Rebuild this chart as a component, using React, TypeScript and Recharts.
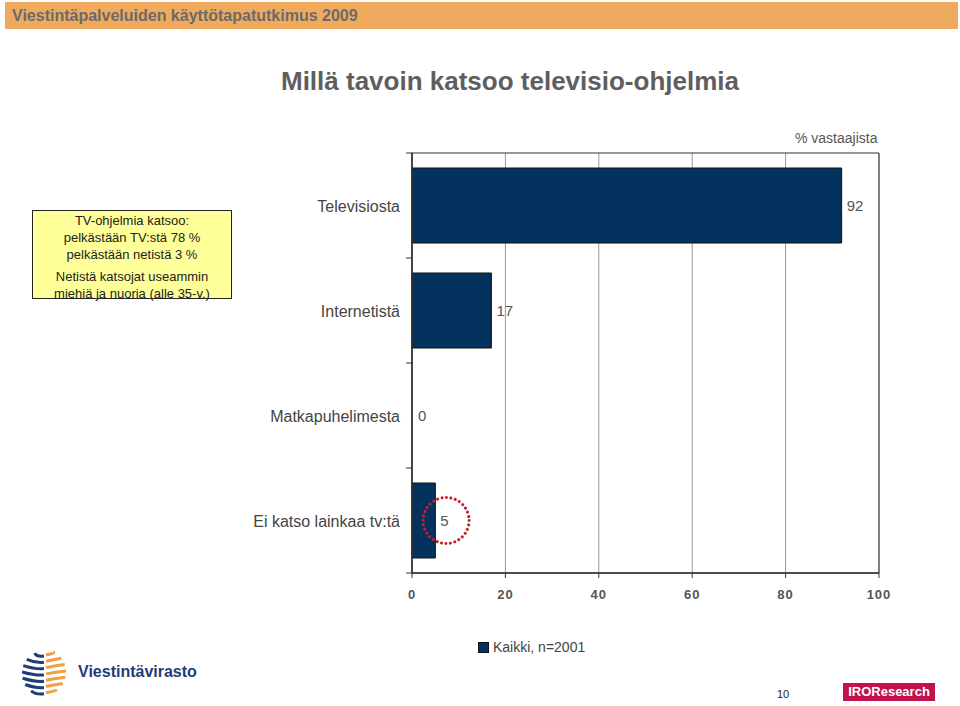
import React from "react";
import {
  BarChart, Bar, XAxis, YAxis, CartesianGrid, LabelList, ReferenceDot, ReferenceArea, Rectangle,
} from "recharts";

const categories = ["Televisiosta", "Internetistä", "Matkapuhelimesta", "Ei katso lainkaa tv:tä"];
const values = [92, 17, 0, 5];
const xTicks = [0, 20, 40, 60, 80, 100];
const seriesName = "Kaikki, n=2001";

const FONT = "'Liberation Sans', Arial, sans-serif";
const PLOT_TOP = 153;
const PLOT_H = 420;
const BAND = PLOT_H / categories.length;
const NAVY = "#03325F";

const data = categories.map((name, i) => ({ name, value: values[i] }));

// kategoriatekstit + väkäset kaistojen rajoille
function CatTick(props: any) {
  const { x, y, payload } = props;
  return (
    <g>
      <text x={x - 4} y={y} dy={6} textAnchor="end" fontSize={16} fill="#444" fontFamily={FONT}>
        {payload.value}
      </text>
      <line x1={x + 2} x2={x + 9} y1={y + BAND / 2} y2={y + BAND / 2} stroke="#333" />
      {payload.index === 0 && <line x1={x + 2} x2={x + 9} y1={y - BAND / 2} y2={y - BAND / 2} stroke="#333" />}
    </g>
  );
}

// nollapalkkia ei piirretä, mutta arvo näytetään
function BarShape(props: any) {
  if (!props.value) return null;
  return <Rectangle {...props} />;
}

function Logo() {
  const rows = [0, 1, 2, 3, 4, 5, 6];
  return (
    <svg width={44} height={50} style={{ position: "absolute", left: 22, top: 648 }}>
      {rows.map((r) => {
        const y = 5 + r * 6.3;
        const dy = y - 25;
        const half = Math.sqrt(Math.max(0, 22 * 22 - dy * dy));
        return (
          <g key={r}>
            <path d={`M ${22 - half} ${y} Q ${14} ${y + 4} ${22} ${y + 3}`} stroke="#1f3c78" strokeWidth={3} fill="none" />
            <path d={`M ${24} ${y + 2} Q ${34} ${y} ${22 + half} ${y - 1}`} stroke="#f0a040" strokeWidth={3} fill="none" />
          </g>
        );
      })}
    </svg>
  );
}

export default function App() {
  return (
    <div style={{ position: "absolute", left: 0, top: 0, width: 960, height: 706, background: "#fff", fontFamily: FONT }}>
      <div style={{
        position: "absolute", left: 5, top: 2, width: 953, height: 27, background: "#F0AA5E",
        color: "#6a6a6a", fontWeight: "bold", fontSize: 16, lineHeight: "27px", paddingLeft: 7, boxSizing: "border-box",
      }}>
        Viestintäpalveluiden käyttötapatutkimus 2009
      </div>
      <div style={{
        position: "absolute", left: 0, top: 66, width: 1020, textAlign: "center",
        fontSize: 26, fontWeight: "bold", color: "#5e5e5e",
      }}>
        Millä tavoin katsoo televisio-ohjelmia
      </div>
      <div style={{ position: "absolute", left: 795, top: 130, fontSize: 14, color: "#555" }}>% vastaajista</div>

      <div style={{
        position: "absolute", left: 32, top: 210, width: 200, height: 89, background: "#FFFF99",
        border: "1px solid #222", boxSizing: "border-box", textAlign: "center", fontSize: 13,
        lineHeight: "17px", color: "#222", paddingTop: 1,
      }}>
        <div>TV-ohjelmia katsoo:</div>
        <div>pelkästään TV:stä 78 %</div>
        <div>pelkästään netistä 3 %</div>
        <div style={{ marginTop: 5 }}>Netistä katsojat useammin</div>
        <div>miehiä ja nuoria (alle 35-v.)</div>
      </div>

      <div style={{ position: "absolute", left: 0, top: 0 }}>
        <BarChart
          width={960}
          height={706}
          data={data}
          layout="vertical"
          margin={{ top: PLOT_TOP, right: 81, bottom: 706 - PLOT_TOP - PLOT_H - 30, left: 212 }}
          barCategoryGap={0}
        >
          <CartesianGrid horizontal={false} stroke="#999" />
          <ReferenceArea x1={0} x2={100} fill="none" stroke="#333" strokeWidth={1} ifOverflow="visible" />
          <XAxis
            type="number"
            domain={[0, 100]}
            ticks={xTicks}
            height={30}
            axisLine={{ stroke: "#333", strokeWidth: 1.5 }}
            tickLine={{ stroke: "#333" }}
            tickSize={5}
            tickMargin={12}
            tick={{ fontSize: 13, fill: "#555", fontWeight: "bold", fontFamily: FONT, letterSpacing: 1 }}
          />
          <YAxis
            type="category"
            dataKey="name"
            width={200}
            axisLine={{ stroke: "#333", strokeWidth: 1.5 }}
            tickLine={false}
            tick={<CatTick />}
            interval={0}
          />
          <Bar
            dataKey="value"
            name={seriesName}
            fill={NAVY}
            stroke="#111"
            strokeWidth={1}
            barSize={75}
            minPointSize={1}
            shape={<BarShape />}
            isAnimationActive={false}
          >
            <LabelList dataKey="value" position="right" offset={5} fill="#555" fontSize={15} fontFamily={FONT} />
          </Bar>
          <ReferenceDot
            x={7.3}
            y="Ei katso lainkaa tv:tä"
            r={23}
            fill="none"
            stroke="#C4202E"
            strokeWidth={3}
            strokeDasharray="0.1 4.4"
            strokeLinecap="round"
          />
        </BarChart>
      </div>

      <div style={{ position: "absolute", left: 478, top: 639, display: "flex", alignItems: "center", fontSize: 14, color: "#444" }}>
        <span style={{ display: "inline-block", width: 9, height: 9, background: NAVY, border: "1px solid #111", marginRight: 4 }} />
        {seriesName}
      </div>

      <Logo />
      <div style={{ position: "absolute", left: 78, top: 663, fontSize: 16, fontWeight: "bold", color: "#1f3c78" }}>Viestintävirasto</div>
      <div style={{ position: "absolute", left: 777, top: 688, fontSize: 11, color: "#222" }}>10</div>
      <div style={{
        position: "absolute", left: 843, top: 683, width: 92, height: 18, background: "#C4124C",
        color: "#fff", fontWeight: "bold", fontSize: 13, lineHeight: "18px", textAlign: "center",
      }}>IROResearch</div>
    </div>
  );
}
